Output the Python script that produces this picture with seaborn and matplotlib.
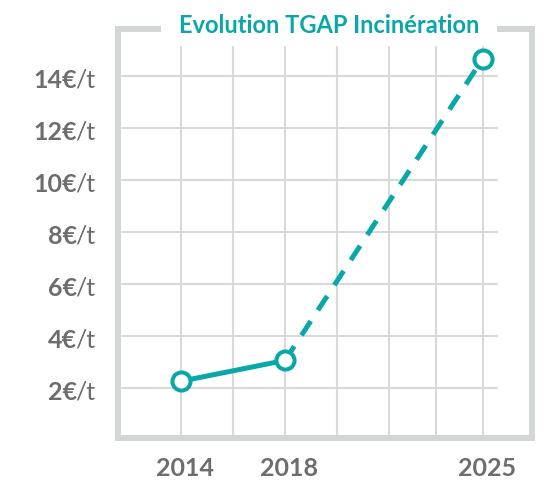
import pandas as pd
import seaborn as sns
import matplotlib.pyplot as plt
from matplotlib.transforms import ScaledTranslation

# Data
years = ["2014", "2018", "2025"]
slots = [0, 2, 5.8]              # grid column of each year (grid is not linear in time)
tgap = [2.25, 3.05, 14.65]       # €/t
y_ticks = [2, 4, 6, 8, 10, 12, 14]
grid_cols = [0, 1, 2, 3, 4, 4.9, 5.8]

teal = "#0aa7a9"
grey_txt = "#6d6d6d"
grey_box = "#d3d6d7"
grey_grid = "#d8dada"

sns.set_style("white")
plt.rcParams["font.family"] = ["Lato", "DejaVu Sans"]

df = pd.DataFrame({"slot": slots, "tgap": tgap, "year": years})

fig = plt.figure(figsize=(5.54, 4.84), dpi=100)
ax = fig.add_axes([118 / 554, 1 - 438 / 484, (532 - 118) / 554, (438 - 29.5) / 484])
ax.set_xlim(-1.212, 6.75)
ax.set_ylim(0.065, 15.78)

# grid (drawn by hand so it stops short of the frame)
for y in y_ticks:
    ax.axhline(y, xmin=4 / 414, xmax=379 / 414, color=grey_grid, lw=1.5, zorder=1)
for x in grid_cols:
    ax.axvline(x, ymin=0, ymax=(438 - 47) / 408.5, color=grey_grid, lw=1.5, zorder=1)

# measured part solid, projection dashed
sns.lineplot(data=df.iloc[:2], x="slot", y="tgap", color=teal, lw=3.6, ax=ax, zorder=3)
sns.lineplot(data=df.iloc[1:], x="slot", y="tgap", color=teal, lw=3.6, ax=ax, zorder=3,
             linestyle=(0, (3.4, 2.6)))
sns.scatterplot(data=df, x="slot", y="tgap", s=170, color="white", edgecolor=teal,
                linewidth=2.9, ax=ax, zorder=5, clip_on=False)

# frame
ax.spines["top"].set_visible(False)
for side in ["left", "right", "bottom"]:
    ax.spines[side].set_color(grey_box)
    ax.spines[side].set_linewidth(4.3)
for x0, x1 in [(0, 40 / 414), (382 / 414, 1)]:
    ax.plot([x0, x1], [1, 1], transform=ax.transAxes, color=grey_box, lw=4.3,
            solid_capstyle="projecting", clip_on=False)

ax.set_xlabel("")
ax.set_ylabel("")
ax.set_yticks([])
ax.set_xticks(slots)
ax.set_xticklabels(years, fontsize=18, fontweight="bold", color=grey_txt)
ax.tick_params(axis="x", length=0, pad=14)
for lbl in ax.get_xticklabels():
    lbl.set_transform(lbl.get_transform() + ScaledTranslation(0.04, 0, fig.dpi_scale_trans))

# y labels: bold value + regular unit
for y in y_ticks:
    ax.annotate(f"{y}€", xy=(0, y), xycoords=("axes fraction", "data"),
                xytext=(-29.5, -8.5), textcoords="offset points", ha="right", va="baseline",
                fontsize=18, fontweight="bold", color=grey_txt)
    ax.annotate("/t", xy=(0, y), xycoords=("axes fraction", "data"),
                xytext=(-30.5, -8.5), textcoords="offset points", ha="left", va="baseline",
                fontsize=18, color=grey_txt)

fig.text(329 / 554, 1 - 33 / 484, "Evolution TGAP Incinération", ha="center", va="baseline",
         fontsize=17, fontweight="bold", color=teal)

fig.savefig("out.png", dpi=100)
